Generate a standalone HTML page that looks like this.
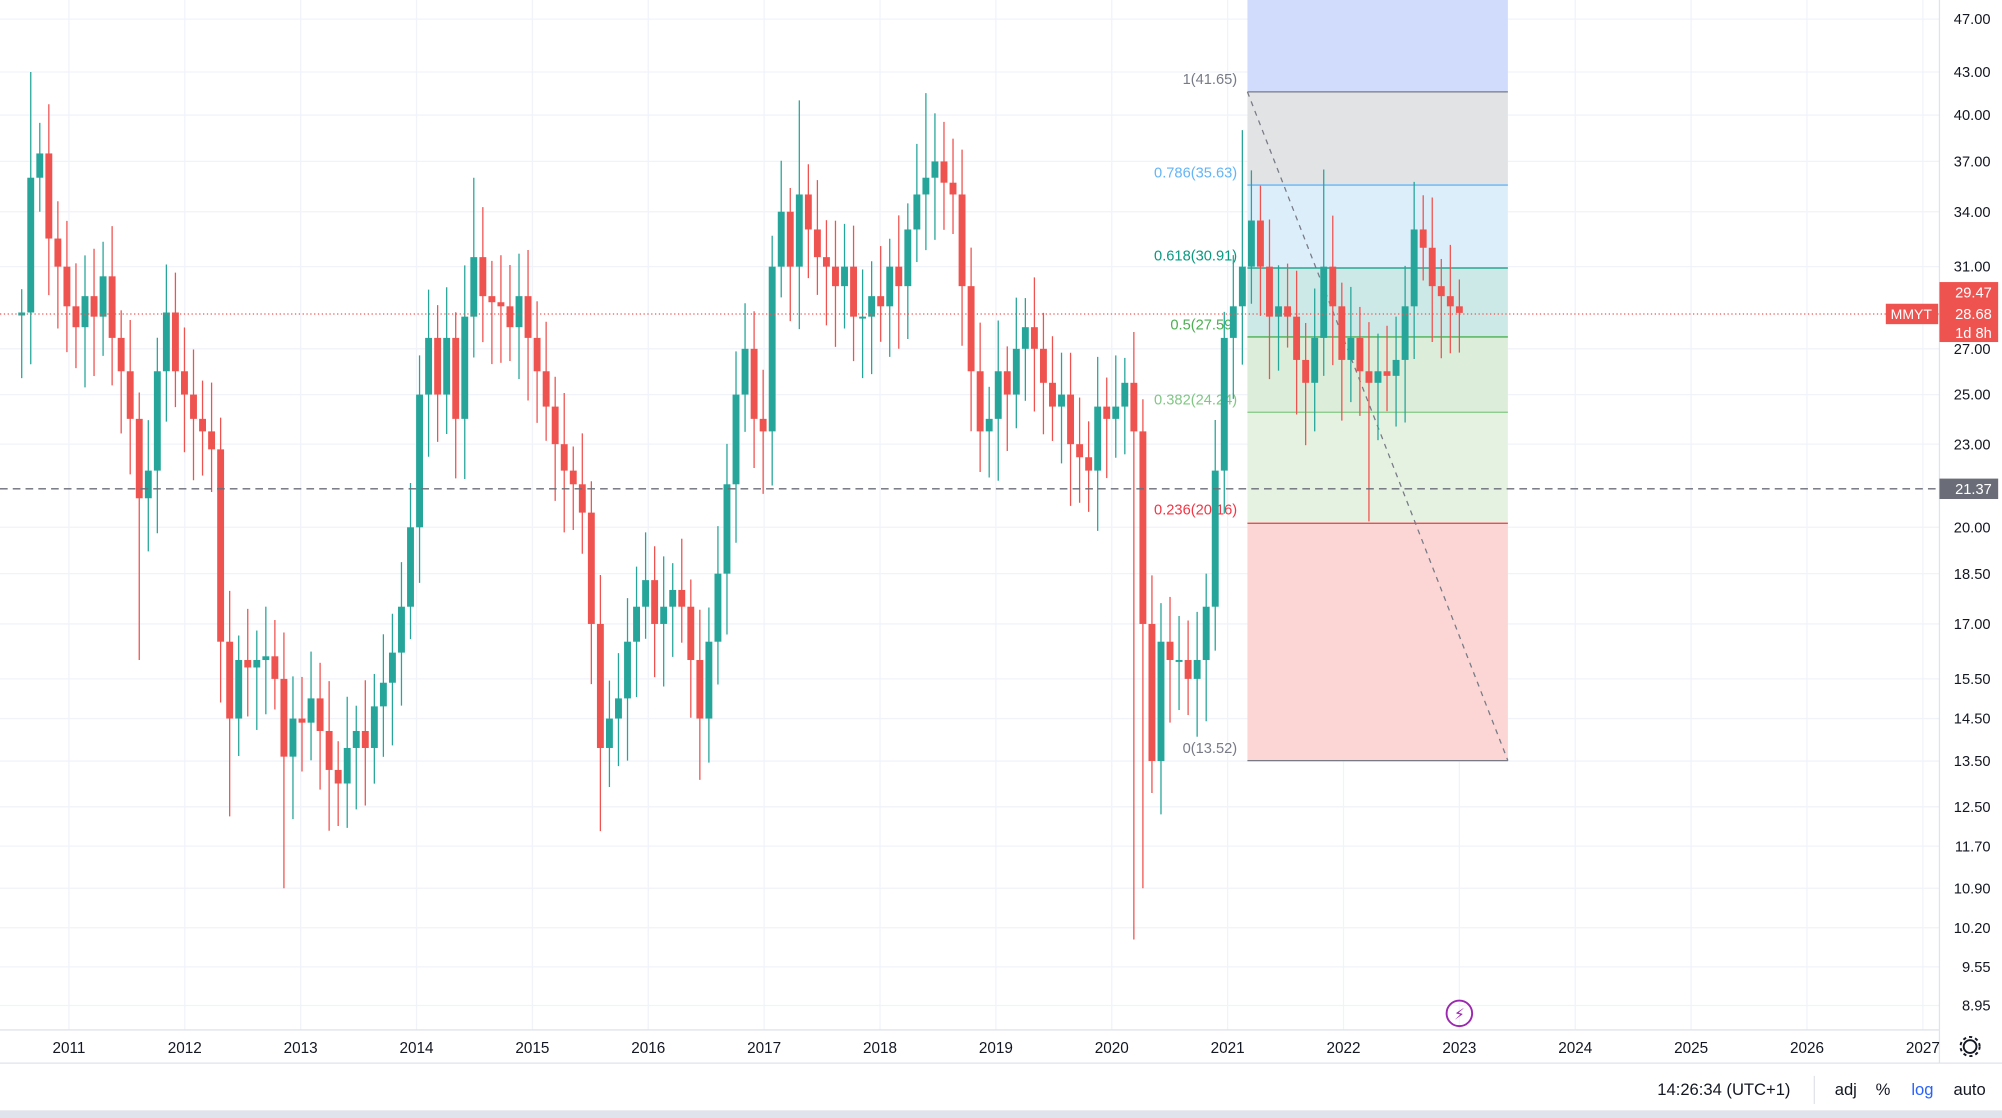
<!DOCTYPE html>
<html><head><meta charset="utf-8"><style>
html,body{margin:0;padding:0;background:#fff;overflow:hidden}
svg{display:block}
text{font-family:"Liberation Sans","DejaVu Sans",sans-serif}
</style></head><body>
<svg id="s" width="2002" height="1118" viewBox="0 0 1568 876" preserveAspectRatio="none" xmlns="http://www.w3.org/2000/svg">
<rect width="1568" height="876" fill="#fff"/>
<g id="grid"></g>
<rect x="977" y="0" width="204" height="72" fill="#d1dcfd"/>
<rect x="977" y="72" width="204" height="73" fill="#e2e3e5"/>
<rect x="977" y="145" width="204" height="65" fill="#ddeefb"/>
<rect x="977" y="210" width="204" height="54" fill="#cde9e7"/>
<rect x="977" y="264" width="204" height="59" fill="#dcedda"/>
<rect x="977" y="323" width="204" height="87" fill="#e5f2e2"/>
<rect x="977" y="410" width="204" height="186" fill="#fbd6d5"/>
<line x1="977" y1="72" x2="1181" y2="72" stroke="#787b86" stroke-width="1"/>
<line x1="977" y1="145" x2="1181" y2="145" stroke="#64b5f6" stroke-width="1"/>
<line x1="977" y1="210" x2="1181" y2="210" stroke="#089981" stroke-width="1"/>
<line x1="977" y1="264" x2="1181" y2="264" stroke="#4caf50" stroke-width="1"/>
<line x1="977" y1="323" x2="1181" y2="323" stroke="#81c784" stroke-width="1"/>
<line x1="977" y1="410" x2="1181" y2="410" stroke="#f23645" stroke-width="1"/>
<line x1="977" y1="596" x2="1181" y2="596" stroke="#787b86" stroke-width="1"/>
<line x1="977" y1="72" x2="1181" y2="596" stroke="#787b86" stroke-width="1" stroke-dasharray="4,4"/>
<g font-size="11.5" text-anchor="end">
<text x="969" y="66" fill="#787b86">1(41.65)</text>
<text x="969" y="139" fill="#64b5f6">0.786(35.63)</text>
<text x="969" y="204" fill="#089981">0.618(30.91)</text>
<text x="969" y="258" fill="#4caf50">0.5(27.59)</text>
<text x="969" y="317" fill="#81c784">0.382(24.24)</text>
<text x="969" y="403" fill="#f23645">0.236(20.16)</text>
<text x="969" y="590" fill="#787b86">0(13.52)</text>
</g>
<g id="candles"></g>
<line x1="0" y1="383" x2="1519" y2="383" stroke="#6a6d78" stroke-width="1" stroke-dasharray="6,4"/>
<line x1="0" y1="246" x2="1519" y2="246" stroke="#ef5350" stroke-width="1" stroke-dasharray="1,2"/>
<line x1="1519" y1="0" x2="1519" y2="833" stroke="#e0e3eb"/>
<line x1="0" y1="807" x2="1519" y2="807" stroke="#e0e3eb"/>
<line x1="0" y1="833" x2="1568" y2="833" stroke="#e0e3eb"/>
<g id="ylab" font-size="11.5" fill="#131722"></g>
<g id="xlab" font-size="12" fill="#131722" text-anchor="middle"></g>
<rect x="1477" y="238" width="41" height="16" fill="#ef5350"/>
<text x="1497" y="250" font-size="11" fill="#fff" text-anchor="middle">MMYT</text>
<rect x="1519" y="221" width="46" height="47" fill="#ef5350"/>
<text x="1560" y="233" font-size="11.5" fill="#fff" text-anchor="end">29.47</text>
<text x="1560" y="250" font-size="11.5" fill="#fff" text-anchor="end">28.68</text>
<text x="1560" y="265" font-size="11.5" fill="#fff" text-anchor="end">1d 8h</text>
<rect x="1519" y="375" width="46" height="16" fill="#6a6d78"/>
<text x="1560" y="387" font-size="11.5" fill="#fff" text-anchor="end">21.37</text>
<circle cx="1143" cy="794" r="10" fill="none" stroke="#9c27b0" stroke-width="1.5"/>
<text x="1143" y="799" font-size="12" fill="#9c27b0" text-anchor="middle">⚡</text>
<circle cx="1543" cy="820" r="5" fill="none" stroke="#131722" stroke-width="1.5"/>
<circle cx="1543" cy="820" r="7.5" fill="none" stroke="#131722" stroke-width="1.5" stroke-dasharray="2.5,2.4"/>
<g font-size="13" fill="#131722">
<text x="1298" y="858">14:26:34 (UTC+1)</text>
<line x1="1421" y1="843" x2="1421" y2="865" stroke="#e0e3eb"/>
<text x="1437" y="858">adj</text>
<text x="1469" y="858">%</text>
<text x="1497" y="858" fill="#2962ff">log</text>
<text x="1530" y="858">auto</text>
</g>
<rect x="0" y="870" width="1568" height="6" fill="#e0e3eb"/>
</svg>
<script>
var NS="http://www.w3.org/2000/svg";
function Y(p){return 15+(Math.log(47)-Math.log(p))*466;}
function el(t,a,par){var e=document.createElementNS(NS,t);for(var k in a)e.setAttribute(k,a[k]);par.appendChild(e);return e;}
var grid=document.getElementById('grid'),yl=document.getElementById('ylab'),xl=document.getElementById('xlab');
var ticks=[47,43,40,37,34,31,27,25,23,20,18.5,17,15.5,14.5,13.5,12.5,11.7,10.9,10.2,9.55,8.95];
ticks.forEach(function(p){var y=Y(p);el('line',{x1:0,y1:y,x2:1519,y2:y,stroke:'#f0f3fa'},grid);
var t=el('text',{x:1559,y:y+4,'text-anchor':'end'},yl);t.textContent=p.toFixed(2);});
for(var i=0;i<17;i++){var x=54+i*90.75;if(x>1519)break;el('line',{x1:x,y1:0,x2:x,y2:807,stroke:'#f0f3fa'},grid);
var t=el('text',{x:x,y:825},xl);t.textContent=2011+i;}
var c=[28.7,36,37.5,32.5,31,29,28,29.5,28.5,30.5,27.5,26,24,21,22,26,28.7,26,25,24,23.5,22.8,16.5,14.5,16,15.8,16,16.1,15.5,13.6,14.5,14.4,15,14.2,13.3,13,13.8,14.2,13.8,14.8,15.4,16.2,17.5,20,25,27.5,25,27.5,24,28.5,31.5,29.5,29.2,29,28,29.5,27.5,26,24.5,23,22,21.5,20.5,17,13.8,14.5,15,16.5,17.5,18.3,17,17.5,18,17.5,16,14.5,16.5,18.5,21.5,25,27,24,23.5,31,34,31,35,33,31.5,31,30,31,28.5,28.5,29.5,29,31,30,33,35,36,37,35.7,35,30,26,23.5,24,26,25,27,28,27,25.5,24.5,25,23,22.5,22,24.5,24,24.5,25.5,23.5,17,13.5,16.5,16,16,15.5,16,17.5,22,27.5,29,31,33.5,31,28.5,29,28.5,26.5,25.5,27.5,31,29,26.5,27.5,26,25.5,26,25.8,26.5,29,33,32,30,29.5,29,28.68];
var g=document.getElementById('candles'),n=c.length,step=(1143-17)/(n-1);
var hiO={},loO={};
function near(x){return Math.round((x-17)/step);}
hiO[near(25)]=43;hiO[near(629)]=41;hiO[near(727)]=41.5;hiO[near(976)]=39;hiO[near(372)]=36;hiO[near(1038)]=36.5;
loO[near(221)]=10.9;loO[near(886)]=10.0;loO[near(894)]=10.9;loO[near(182)]=12.3;loO[near(470)]=12;loO[near(1069)]=20.2;loO[near(108)]=16;
for(var i=0;i<n;i++){var o=i?c[i-1]:c[i]*0.995,cl=c[i],x=17+i*step;
var col=cl>=o?'#26a69a':'#ef5350';var hi=Math.max(o,cl)*(1.04+0.05*Math.abs(Math.sin(i*1.7))),lo=Math.min(o,cl)*(0.95-0.05*Math.abs(Math.cos(i*2.3)));
if(hiO[i])hi=hiO[i];if(loO[i])lo=loO[i];
el('line',{x1:x,y1:Y(hi),x2:x,y2:Y(lo),stroke:col,'stroke-width':1},g);
var y1=Y(Math.max(o,cl)),y2=Y(Math.min(o,cl));el('rect',{x:x-2.7,y:y1,width:5.4,height:Math.max(1.5,y2-y1),fill:col},g);}
</script>
</body></html>
